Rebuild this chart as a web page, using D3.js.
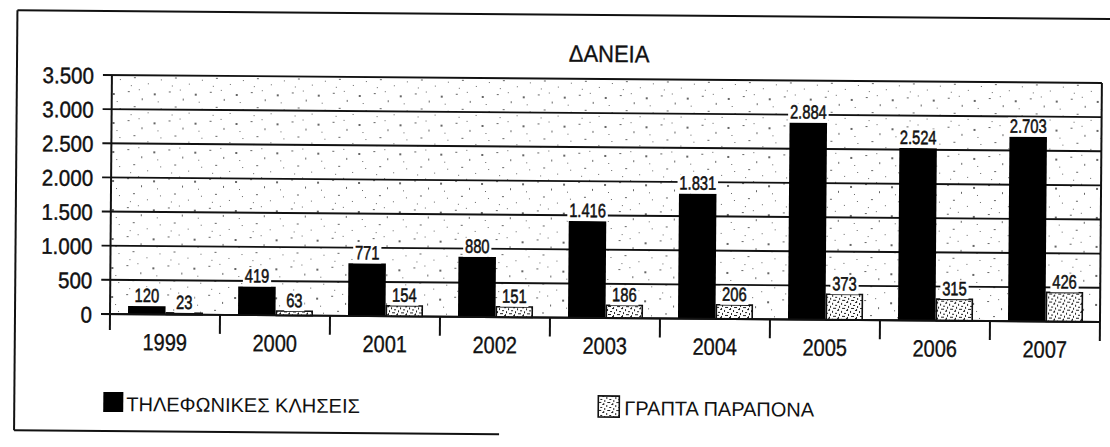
<!DOCTYPE html>
<html><head><meta charset="utf-8">
<script src="https://cdn.jsdelivr.net/npm/d3@7"></script>
<style>
html,body{margin:0;padding:0;background:#fff;}
svg{display:block;}
text{font-family:"Liberation Sans",Arial,Helvetica,sans-serif;fill:#111;}
</style></head>
<body>
<script>
const title = "ΔΑΝΕΙΑ";
const years = ["1999","2000","2001","2002","2003","2004","2005","2006","2007"];
const seriesNames = ["ΤΗΛΕΦΩΝΙΚΕΣ ΚΛΗΣΕΙΣ","ΓΡΑΠΤΑ ΠΑΡΑΠΟΝΑ"];
const calls = [120,419,771,880,1416,1831,2884,2524,2703];
const written = [23,63,154,151,186,206,373,315,426];
const yTicks = [0,500,1000,1500,2000,2500,3000,3500];

const W = 1110, H = 447;
const fmt = d3.formatLocale({decimal:",",thousands:".",grouping:[3],currency:["€",""]}).format(",d");

const svg = d3.select("body").append("svg").attr("width",W).attr("height",H);
const defs = svg.append("defs");

// speckle pattern for plot background
const bgp = defs.append("pattern").attr("id","bgspeck").attr("patternUnits","userSpaceOnUse")
  .attr("width",41).attr("height",29);
[[3,4,2,1],[17,11,1,2],[29,6,2,2],[36,21,1,1],[9,19,2,1],[23,25,1,1],[33,14,1,1],[6,27,1,1],[14,2,1,1]].forEach(d=>
  bgp.append("rect").attr("x",d[0]).attr("y",d[1]).attr("width",d[2]).attr("height",d[3]).attr("fill","#666"));

// dense speckle for written-complaints bars
const bp = defs.append("pattern").attr("id","barspeck").attr("patternUnits","userSpaceOnUse")
  .attr("width",9).attr("height",8);
bp.append("rect").attr("width",9).attr("height",8).attr("fill","#fff");
[[0,0,2,1],[4,1,1,2],[7,3,2,1],[2,4,1,2],[5,6,2,1],[1,7,1,1],[7,6,1,1]].forEach(d=>
  bp.append("rect").attr("x",d[0]).attr("y",d[1]).attr("width",d[2]).attr("height",d[3]).attr("fill","#222"));

const g = svg.append("g").attr("transform","rotate(0.46,110,314)");

// outer frame
g.append("line").attr("x1",15).attr("x2",1130).attr("y1",11).attr("y2",11).attr("stroke","#111").attr("stroke-width",2);
g.append("line").attr("x1",15).attr("x2",15).attr("y1",11).attr("y2",431).attr("stroke","#111").attr("stroke-width",2);
g.append("line").attr("x1",15).attr("x2",500).attr("y1",431).attr("y2",431).attr("stroke","#111").attr("stroke-width",2);

const x = d3.scaleBand().domain(years).range([110,1100]);
const xs = d3.scaleBand().domain(["calls","written"]).range([18, 110-17]);
const y = d3.scaleLinear().domain([0,3500]).range([314,75]);

// plot background
g.append("rect").attr("x",110).attr("y",y(3500)).attr("width",990).attr("height",y(0)-y(3500))
  .attr("fill","url(#bgspeck)");

// title
g.append("text").attr("transform","translate(607,58) scale(1,1.08)").attr("text-anchor","middle")
  .attr("font-size",22).attr("stroke","#111").attr("stroke-width",0.3).text(title);

// gridlines
g.append("g").selectAll("line").data(yTicks).join("line")
  .attr("x1",101).attr("x2",1100).attr("y1",d=>y(d)).attr("y2",d=>y(d))
  .attr("stroke","#111").attr("stroke-width",1.9);

// y axis labels
const ya = g.append("g").attr("transform","translate(110,0)")
  .call(d3.axisLeft(y).tickValues(yTicks).tickFormat(fmt).tickSize(9).tickPadding(9));
ya.select(".domain").remove();
ya.selectAll(".tick line").remove();
ya.selectAll("text").attr("font-size",20.5).attr("fill","#111")
  .attr("font-family","'Liberation Sans',Arial,sans-serif")
  .attr("dy","0.36em").attr("transform","scale(1,1.1)")
  .attr("stroke","#111").attr("stroke-width",0.4);

// left and right verticals
g.append("line").attr("x1",110).attr("x2",110).attr("y1",y(3500)).attr("y2",330).attr("stroke","#111").attr("stroke-width",2);
g.append("line").attr("x1",1100).attr("x2",1100).attr("y1",y(3500)).attr("y2",333).attr("stroke","#111").attr("stroke-width",2);

// x ticks at band boundaries
g.append("g").selectAll("line").data(years.slice(1)).join("line")
  .attr("x1",d=>x(d)).attr("x2",d=>x(d)).attr("y1",y(0)).attr("y2",333)
  .attr("stroke","#111").attr("stroke-width",2);

// year labels
g.append("g").selectAll("text").data(years).join("text")
  .attr("transform",d=>`translate(${x(d)+x.bandwidth()/2},350) scale(1,1.18)`)
  .attr("text-anchor","middle").attr("font-size",20)
  .attr("stroke","#111").attr("stroke-width",0.3).text(d=>d);

const data = years.map((yr,i)=>({yr, calls:calls[i], written:written[i]}));

// bars
const bars = g.append("g");
bars.selectAll("rect.calls").data(data).join("rect").attr("class","calls")
  .attr("x",d=>x(d.yr)+xs("calls")).attr("width",xs.bandwidth())
  .attr("y",d=>y(d.calls)).attr("height",d=>y(0)-y(d.calls)).attr("fill","#000");
bars.selectAll("rect.written").data(data).join("rect").attr("class","written")
  .attr("x",d=>x(d.yr)+xs("written")+0.8).attr("width",xs.bandwidth()-1.6)
  .attr("y",d=>y(d.written)).attr("height",d=>Math.max(1,y(0)-y(d.written)))
  .attr("fill","url(#barspeck)").attr("stroke","#111").attr("stroke-width",1.6);

// zero line over bars
g.append("line").attr("x1",101).attr("x2",1100).attr("y1",y(0)).attr("y2",y(0)).attr("stroke","#111").attr("stroke-width",1.9);

// value labels
function addLabels(key){
  const lg = g.append("g").selectAll("g").data(data).join("g")
    .attr("transform",d=>`translate(${x(d.yr)+xs(key)+xs.bandwidth()/2},${y(d[key])-4}) scale(0.92,1.2)`);
  lg.append("text").attr("text-anchor","middle").attr("font-size",16)
    .attr("stroke","#111").attr("stroke-width",0.45)
    .text(d=>fmt(d[key]));
  lg.each(function(){
    const t = d3.select(this).select("text");
    const b = t.node().getBBox();
    d3.select(this).insert("rect","text").attr("x",b.x-2).attr("y",b.y+1.5).attr("width",b.width+4).attr("height",b.height-2).attr("fill","#fff");
  });
}
addLabels("calls");
addLabels("written");

// legend
const leg = g.append("g");
leg.append("rect").attr("x",104).attr("y",392).attr("width",20).attr("height",20).attr("fill","#000");
leg.append("text").attr("x",127).attr("y",411).attr("font-size",20).text(seriesNames[0]);
leg.append("rect").attr("x",599).attr("y",392).attr("width",21).attr("height",21).attr("fill","url(#barspeck)").attr("stroke","#111").attr("stroke-width",1.6);
leg.append("text").attr("x",625).attr("y",411).attr("font-size",20).text(seriesNames[1]);
</script>
</body></html>
